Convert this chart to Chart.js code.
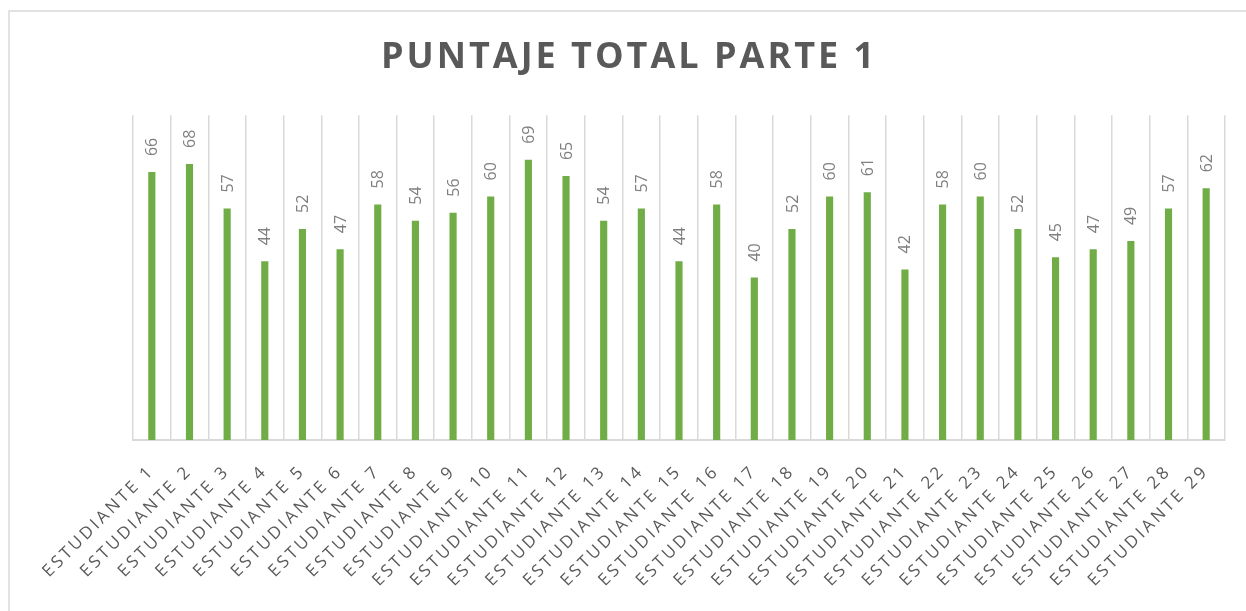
<!DOCTYPE html>
<html>
<head>
<meta charset="utf-8">
<script src="https://cdn.jsdelivr.net/npm/chart.js@4/dist/chart.umd.min.js"></script>
<style>
  html, body { margin: 0; padding: 0; background: #fff; }
  #wrap { position: relative; width: 1246px; height: 611px; }
</style>
</head>
<body>
<div id="wrap"><canvas id="chart" width="1246" height="611"></canvas></div>
<script>
// data
const students = [
    "ESTUDIANTE 1", "ESTUDIANTE 2", "ESTUDIANTE 3", "ESTUDIANTE 4", "ESTUDIANTE 5",
    "ESTUDIANTE 6", "ESTUDIANTE 7", "ESTUDIANTE 8", "ESTUDIANTE 9", "ESTUDIANTE 10",
    "ESTUDIANTE 11", "ESTUDIANTE 12", "ESTUDIANTE 13", "ESTUDIANTE 14", "ESTUDIANTE 15",
    "ESTUDIANTE 16", "ESTUDIANTE 17", "ESTUDIANTE 18", "ESTUDIANTE 19", "ESTUDIANTE 20",
    "ESTUDIANTE 21", "ESTUDIANTE 22", "ESTUDIANTE 23", "ESTUDIANTE 24", "ESTUDIANTE 25",
    "ESTUDIANTE 26", "ESTUDIANTE 27", "ESTUDIANTE 28", "ESTUDIANTE 29",
];
const scores = [
    66, 68, 57, 44, 52, 47, 58, 54, 56, 60,
    69, 65, 54, 57, 44, 58, 40, 52, 60, 61,
    42, 58, 60, 52, 45, 47, 49, 57, 62,
];
const chartTitle = "PUNTAJE TOTAL PARTE 1";

const GREEN = "#70ad47";
const GRID = "#d9d9d9";

// Excel-like spaced caps for axis + title; plain for the value labels
const spacing = {
    id: "spacing",
    beforeLayout(chart) { chart.ctx.letterSpacing = "3px"; },
    beforeDraw(chart) { chart.ctx.letterSpacing = "3px"; },
};

// outer chart frame (only top + left edges are visible in the picture)
const frame = {
    id: "frame",
    beforeDraw(chart) {
        const ctx = chart.ctx;
        ctx.save();
        ctx.strokeStyle = GRID;
        ctx.lineWidth = 1.5;
        ctx.beginPath();
        ctx.moveTo(9, chart.height);
        ctx.lineTo(9, 11);
        ctx.lineTo(chart.width, 11);
        ctx.stroke();
        ctx.restore();
    },
};

// vertical value labels above each bar
const valueLabels = {
    id: "valueLabels",
    afterDatasetsDraw(chart) {
        const ctx = chart.ctx;
        const meta = chart.getDatasetMeta(0);
        const data = chart.data.datasets[0].data;
        ctx.save();
        ctx.letterSpacing = "0px";
        ctx.fillStyle = "#7f7f7f";
        ctx.font = "16px 'Open Sans', sans-serif";
        ctx.textAlign = "left";
        ctx.textBaseline = "middle";
        meta.data.forEach((bar, i) => {
            ctx.save();
            ctx.translate(bar.x, bar.y - 16);
            ctx.rotate(-Math.PI / 2);
            ctx.fillText(String(data[i]), 0, 1);
            ctx.restore();
        });
        ctx.restore();
    },
};

// invisible side axes just to reserve room, so the title stays centred on the whole frame
const spacer = (w) => ({
    display: true,
    ticks: { display: false },
    grid: { display: false, drawTicks: false },
    border: { display: false },
    afterFit(scale) { scale.width = w; },
});

new Chart(document.getElementById("chart"), {
    type: "bar",
    data: {
        labels: students,
        datasets: [{
            label: "Puntaje",
            data: scores,
            backgroundColor: GREEN,
            borderWidth: 0,
            categoryPercentage: 1,
            barPercentage: 0.19,
        }],
    },
    options: {
        responsive: false,
        animation: false,
        layout: { padding: { left: 12, right: 0, top: 0, bottom: 0 } },
        scales: {
            x: {
                offset: true,
                grid: {
                    offset: true,
                    color: GRID,
                    lineWidth: 1.5,
                    drawTicks: false,
                },
                border: { color: GRID, width: 2 },
                ticks: {
                    autoSkip: false,
                    minRotation: 45,
                    maxRotation: 45,
                    padding: 21,
                    color: "#595959",
                    font: { family: "'Open Sans', sans-serif", size: 17 },
                },
                afterFit(scale) { scale.height = 171; },
            },
            y: Object.assign(spacer(121), { position: "left", min: 0, max: 80 }),
            yRight: Object.assign(spacer(21), { position: "right", min: 0, max: 80 }),
        },
        plugins: {
            legend: { display: false },
            tooltip: { enabled: false },
            title: {
                display: true,
                text: chartTitle,
                color: "#595959",
                font: { family: "'Open Sans', sans-serif", size: 36, weight: "bold", lineHeight: 1.2 },
                padding: { top: 36, bottom: 36 },
            },
        },
    },
    plugins: [spacing, frame, valueLabels],
});
</script>
</body>
</html>
